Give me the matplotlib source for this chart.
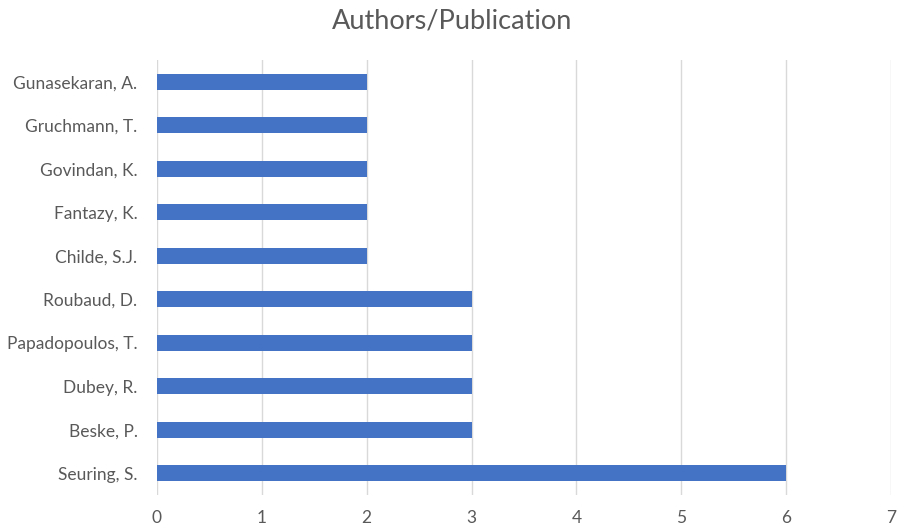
import numpy as np
import matplotlib
matplotlib.use("Agg")
import matplotlib.pyplot as plt

authors = ['Seuring, S.', 'Beske, P.', 'Dubey, R.', 'Papadopoulos, T.', 'Roubaud, D.',
           'Childe, S.J.', 'Fantazy, K.', 'Govindan, K.', 'Gruchmann, T.', 'Gunasekaran, A.']
publications = [6, 3, 3, 3, 3, 2, 2, 2, 2, 2]
xticks = [0, 1, 2, 3, 4, 5, 6, 7]

plt.rcParams['font.family'] = ['Lato', 'DejaVu Sans']
text_color = '#595959'

fig = plt.figure(figsize=(9, 5.3), dpi=100)
ax = fig.add_axes([0.1744, 0.066, 0.8156, 0.821])

y = np.arange(len(authors))
ax.barh(y, publications, height=0.37, color='#4472C4', zorder=3)

ax.set_xlim(0, 7)
ax.set_ylim(-0.5, len(authors) - 0.5)
ax.set_xticks(xticks)
ax.set_yticks(y)
ax.set_yticklabels(authors)
ax.grid(axis='x', color='#D9D9D9', linewidth=1, zorder=0)
for s in ax.spines.values():
    s.set_visible(False)
ax.tick_params(axis='both', length=0, labelsize=12.5, labelcolor=text_color)
ax.tick_params(axis='x', pad=11)
ax.tick_params(axis='y', pad=14)

fig.text(0.502, 0.96, 'Authors/Publication', ha='center', va='center',
         fontsize=19.5, color=text_color)

fig.savefig('out.png', dpi=100)
